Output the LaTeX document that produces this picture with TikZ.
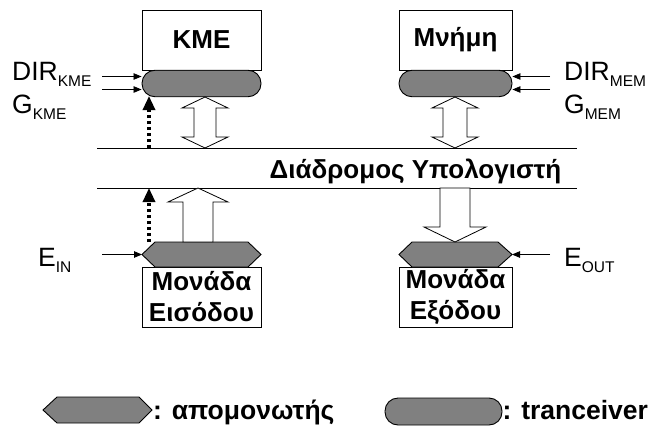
\documentclass[tikz,border=0pt]{standalone}
\usepackage{fontspec}
\setmainfont{Liberation Sans}
\usetikzlibrary{arrows.meta,calc}
\definecolor{bufgray}{HTML}{808080}
\newcommand\sigsub[2]{#1\raisebox{-6.5pt}{\fontsize{15.5}{15.5}\selectfont #2}}
\begin{document}
\begin{tikzpicture}[x=1pt,y=-1pt,
  unitbox/.style={draw, line width=0.9pt, fill=white, inner sep=0pt,
    font=\fontsize{26}{31}\selectfont\bfseries, align=center},
  xcvr/.style={draw, line width=0.9pt, fill=bufgray, rounded corners=13pt,
    inner sep=0pt, minimum height=26.5pt},
  bufshape/.style={draw, line width=0.9pt, fill=bufgray},
  fatarrow/.style={draw, line width=0.8pt, fill=white},
  ctl/.style={line width=0.8pt, -{Triangle[length=8pt,width=6.5pt]}},
  dotarrow/.style={line width=3.2pt, dash pattern=on 3pt off 3pt,
    -{Triangle[length=14pt,width=12pt]}},
  busline/.style={line width=0.9pt},
  sig/.style={anchor=base west, inner sep=0pt, font=\fontsize{26.5}{26.5}\selectfont},
  legtext/.style={anchor=base west, inner sep=0pt, font=\fontsize{26.5}{26.5}\selectfont\bfseries}]
\useasboundingbox (0,0) rectangle (652,428);

% processor and memory with their transceivers
\node[unitbox, minimum width=119pt, minimum height=60pt] (cpu) at (201.5,40) {KME};
\node[xcvr, minimum width=119pt] (cpux) at (201.5,83.5) {};
\node[unitbox, minimum width=113pt, minimum height=60pt] (mem) at (455.5,40) {Μνήμη};
\node[xcvr, minimum width=113pt] (memx) at (455.5,83.5) {};

% system bus
\coordinate (busTL) at (97,148);  \coordinate (busTR) at (577,148);
\coordinate (busBL) at (97,188);  \coordinate (busBR) at (577,188);
\draw[busline] (busTL) -- (busTR);
\draw[busline] (busBL) -- (busBR);
\node[anchor=base, inner sep=0pt, font=\fontsize{26}{26}\selectfont\bfseries] (buslbl) at (415.5,178) {Διάδρομος Υπολογιστή};

% bidirectional data paths between transceivers and bus
\draw[fatarrow] (205,97) -- (228,108) -- (216,108) -- (216,137) -- (228,137) -- (205,148)
  -- (182,137) -- (194,137) -- (194,108) -- (182,108) -- cycle;
\draw[fatarrow] (455,97) -- (478,108) -- (467,108) -- (467,137) -- (478,137) -- (455,148)
  -- (432,137) -- (443,137) -- (443,108) -- (432,108) -- cycle;

% input and output units
\node[unitbox, minimum width=119pt, minimum height=60pt] (inu) at (201.5,297) {Μονάδα\\Εισόδου};
\node[unitbox, minimum width=113pt, minimum height=60pt] (outu) at (455.5,297) {Μονάδα\\Εξόδου};

% buffers (tri-state drivers)
\draw[bufshape] (142,254.5) -- (155,242) -- (248,242) -- (261,254.5) -- (248,267) -- (155,267) -- cycle;
\coordinate (inbW) at (142,254.5);
\draw[bufshape] (399,254.5) -- (412,242) -- (498,242) -- (512,254.5) -- (498,267) -- (412,267) -- cycle;
\coordinate (outbE) at (512,254.5);

% one-way data paths
\draw[fatarrow] (198,188) -- (228,202) -- (213,202) -- (213,242) -- (183,242) -- (183,202) -- (168,202) -- cycle;
\draw[fatarrow] (440,188) -- (470,188) -- (470,227) -- (486,227) -- (455,242) -- (424,227) -- (440,227) -- cycle;

% control signals
\coordinate (dirK) at (102,76.5);  \coordinate (gK) at (102,89.5);
\coordinate (dirM) at (550,76.5);  \coordinate (gM) at (550,89.5);
\coordinate (eIn) at (102,254.5);  \coordinate (eOut) at (550,254.5);
\draw[ctl] (dirK) -- (dirK -| cpux.west);
\draw[ctl] (gK) -- (gK -| cpux.west);
\draw[ctl] (dirM) -- (dirM -| memx.east);
\draw[ctl] (gM) -- (gM -| memx.east);
\draw[ctl] (eIn) -- (inbW);
\draw[ctl] (eOut) -- (outbE);

\node[sig] (ldirK) at (12,80) {\sigsub{DIR}{KME}};
\node[sig] (lgK) at (12,113) {\sigsub{G}{KME}};
\node[sig] (ldirM) at (564,80) {\sigsub{DIR}{MEM}};
\node[sig] (lgM) at (564,113) {\sigsub{G}{MEM}};
\node[sig] (leIn) at (38,266) {\sigsub{E}{IN}};
\node[sig] (leOut) at (564,266) {\sigsub{E}{OUT}};

% enable paths from the bus side
\coordinate (dotK) at (149,148);
\coordinate (dotI0) at (149,242);
\draw[dotarrow] (dotK) -- (149,96);
\draw[dotarrow] (dotI0) -- (busBL -| dotI0);

% legend
\draw[bufshape] (43,410) -- (57,397) -- (139,397) -- (152,410) -- (139,423) -- (57,423) -- cycle;
\node[legtext] (legbuf) at (153,419) {: απομονωτής};
\node[xcvr, minimum width=117pt, minimum height=27pt] (legx) at (443.5,411.5) {};
\node[legtext] (legxt) at (legx.east |- 0,419) {: tranceiver};
\end{tikzpicture}
\end{document}
